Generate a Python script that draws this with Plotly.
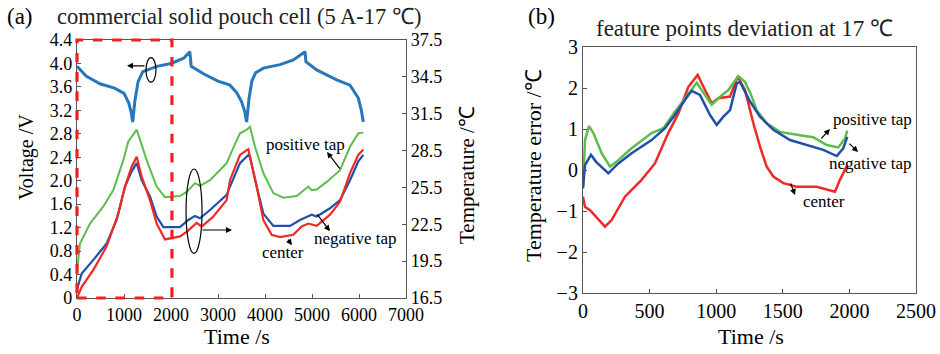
import plotly.graph_objects as go

# ---------------- Panel (a) data ----------------
volt_t = [0, 200, 500, 800, 1000, 1100, 1150, 1185, 1230, 1300, 1400, 1700, 2000, 2270, 2400,
          2430, 2700, 3000, 3255, 3400, 3500, 3570, 3610, 3660, 3720, 3800, 3965, 4320, 4603,
          4851, 4870, 5100, 5525, 5809, 5985, 6050, 6092]
volt_v = [3.95, 3.78, 3.65, 3.58, 3.49, 3.33, 3.18, 3.00, 3.35, 3.69, 3.86, 3.95, 4.00, 4.09, 4.20,
          3.95, 3.82, 3.70, 3.63, 3.50, 3.35, 3.18, 3.00, 3.40, 3.70, 3.84, 3.92, 3.98, 4.06,
          4.20, 4.03, 3.89, 3.72, 3.63, 3.41, 3.20, 3.00]

pos_t = [0, 64, 277, 560, 773, 986, 1092, 1200, 1270, 1340, 1482, 1695, 1872, 2191, 2333, 2511,
         2617, 2830, 3184, 3350, 3468, 3610, 3681, 3787, 3965, 4177, 4390, 4674, 4816, 4922,
         4993, 5100, 5312, 5596, 5809, 5985, 6092]
pos_T = [18.65, 20.94, 22.56, 23.95, 25.28, 27.72, 29.24, 29.77, 30.20, 29.39, 27.72, 25.57,
         24.71, 24.80, 25.14, 25.85, 25.62, 26.09, 27.48, 28.95, 29.91, 30.20, 30.44, 28.81,
         26.67, 25.04, 24.66, 24.80, 25.28, 25.57, 25.28, 25.33, 25.95, 26.90, 28.81, 29.91, 29.96]

neg_t = [0, 100, 348, 631, 844, 1021, 1163, 1270, 1376, 1553, 1695, 1837, 2191, 2369, 2511, 2617,
         2830, 3184, 3255, 3468, 3645, 3681, 3823, 3965, 4177, 4532, 4745, 4993, 5100, 5383,
         5596, 5809, 5985, 6092]
neg_T = [17.22, 18.50, 19.60, 20.94, 22.85, 25.57, 26.81, 27.48, 26.09, 24.76, 23.13, 22.27,
         22.27, 22.85, 23.18, 22.99, 23.66, 24.90, 25.57, 27.48, 28.15, 27.95, 25.57, 23.37,
         22.37, 22.37, 22.85, 23.28, 23.13, 23.80, 24.47, 26.09, 27.62, 28.15]

ctr_t = [0, 100, 348, 631, 879, 1021, 1163, 1270, 1376, 1553, 1695, 1872, 2191, 2333, 2546, 2653,
         2901, 3184, 3255, 3468, 3645, 3823, 3965, 4142, 4319, 4603, 4780, 4922, 5100, 5383,
         5596, 5809, 5985, 6092]
ctr_T = [16.50, 17.41, 18.79, 20.70, 23.37, 25.57, 27.19, 28.00, 26.38, 24.47, 22.56, 21.27,
         21.51, 21.89, 22.61, 22.32, 23.13, 24.47, 26.09, 28.15, 28.62, 25.57, 22.85, 21.65,
         21.46, 21.65, 22.32, 22.56, 22.37, 23.28, 24.33, 26.67, 28.15, 28.58]

volt_ticks = [0, 0.4, 0.8, 1.2, 1.6, 2.0, 2.4, 2.8, 3.2, 3.6, 4.0, 4.4]
volt_ticktext = ["0", "0.4", "0.8", "1.2", "1.6", "2.0", "2.4", "2.8", "3.2", "3.6", "4.0", "4.4"]
temp_ticks = [16.5, 19.5, 22.5, 25.5, 28.5, 31.5, 34.5, 37.5]
temp_ticktext = ["16.5", "19.5", "22.5", "25.5", "28.5", "31.5", "34.5", "37.5"]

# ---------------- Panel (b) data ----------------
bpos_t = [0, 15, 45, 78, 140, 203, 265, 365, 515, 603, 690, 791, 854, 890, 966, 1016, 1091,
          1166, 1216, 1260, 1304, 1379, 1479, 1629, 1729, 1830, 1917, 1967, 1984]
bpos_v = [-0.41, 0.73, 1.07, 0.90, 0.41, 0.08, 0.24, 0.53, 0.90, 1.02, 1.42, 1.87, 2.13, 1.95,
          1.59, 1.75, 1.95, 2.29, 2.15, 1.85, 1.46, 1.14, 0.93, 0.85, 0.80, 0.61, 0.55, 0.77, 0.96]

bneg_t = [0, 15, 60, 98, 190, 265, 365, 515, 616, 690, 791, 816, 878, 954, 1004, 1054, 1104,
          1154, 1179, 1254, 1329, 1429, 1554, 1679, 1804, 1905, 1954, 1984]
bneg_v = [-0.45, 0.12, 0.37, 0.20, -0.08, 0.16, 0.41, 0.73, 1.02, 1.34, 1.83, 1.93, 1.83, 1.34,
          1.10, 1.30, 1.46, 2.11, 2.15, 1.67, 1.30, 0.98, 0.73, 0.61, 0.49, 0.34, 0.53, 0.81]

bctr_t = [0, 15, 53, 165, 215, 315, 440, 540, 640, 716, 791, 861, 904, 966, 1016, 1104, 1161,
          1216, 1279, 1329, 1379, 1429, 1504, 1604, 1754, 1892, 1929, 1984]
bctr_v = [-0.65, -0.90, -0.98, -1.38, -1.22, -0.65, -0.24, 0.16, 0.90, 1.38, 2.03, 2.32, 2.03,
          1.63, 1.75, 1.79, 2.28, 1.95, 1.14, 0.57, 0.08, -0.16, -0.32, -0.41, -0.41, -0.53,
          -0.24, 0.12]

# ---------------- styles ----------------
FONT = "Liberation Serif"
C_VOLT = "#2677bb"
C_GREEN = "#5bbd4a"
C_BLUE = "#2050a8"
C_RED = "#ee2a24"
AXC = "#555555"
W, H = 940, 354


def px(x):
    return x / W


def py(y):
    return 1 - y / H


fig = go.Figure()

# panel (a)
fig.add_trace(go.Scatter(x=volt_t, y=volt_v, mode="lines", line=dict(color=C_VOLT, width=3),
                         xaxis="x", yaxis="y", showlegend=False))
fig.add_trace(go.Scatter(x=pos_t, y=pos_T, mode="lines", line=dict(color=C_GREEN, width=2),
                         xaxis="x", yaxis="y2", showlegend=False))
fig.add_trace(go.Scatter(x=neg_t, y=neg_T, mode="lines", line=dict(color=C_BLUE, width=2.2),
                         xaxis="x", yaxis="y2", showlegend=False))
fig.add_trace(go.Scatter(x=ctr_t, y=ctr_T, mode="lines", line=dict(color=C_RED, width=2.2),
                         xaxis="x", yaxis="y2", showlegend=False))

# panel (b)
fig.add_trace(go.Scatter(x=bctr_t, y=bctr_v, mode="lines", line=dict(color=C_RED, width=2.5),
                         xaxis="x3", yaxis="y3", showlegend=False))
fig.add_trace(go.Scatter(x=bpos_t, y=bpos_v, mode="lines", line=dict(color=C_GREEN, width=2.5),
                         xaxis="x3", yaxis="y3", showlegend=False))
fig.add_trace(go.Scatter(x=bneg_t, y=bneg_v, mode="lines", line=dict(color=C_BLUE, width=2.5),
                         xaxis="x3", yaxis="y3", showlegend=False))

axis_common = dict(showline=True, linecolor=AXC, linewidth=1.2, ticks="inside", ticklen=4,
                   tickcolor=AXC, showgrid=False, zeroline=False, automargin=False,
                   tickfont=dict(family=FONT, size=18, color="black"))
axis_b = {**axis_common, "tickfont": dict(family=FONT, size=20, color="black")}

fig.update_layout(
    width=W, height=H, autosize=False,
    margin=dict(l=0, r=0, t=0, b=0, pad=0),
    paper_bgcolor="white", plot_bgcolor="white",
    font=dict(family=FONT, color="black"),
    xaxis=dict(domain=[px(77), px(406)], range=[0, 7000],
               tickvals=[0, 1000, 2000, 3000, 4000, 5000, 6000, 7000],
               mirror=True, anchor="y", **axis_common),
    yaxis=dict(domain=[py(298), py(40)], range=[0, 4.4], tickvals=volt_ticks, ticktext=volt_ticktext,
               anchor="x", **axis_common),
    yaxis2=dict(overlaying="y", side="right", range=[16.5, 37.5], tickvals=temp_ticks,
                ticktext=temp_ticktext, anchor="x", **axis_common),
    xaxis3=dict(domain=[px(583), px(916)], range=[0, 2500], tickvals=[0, 500, 1000, 1500, 2000, 2500],
                mirror=True, anchor="y3", **axis_b),
    yaxis3=dict(domain=[py(293), py(47)], range=[-3, 3], tickvals=[-3, -2, -1, 0, 1, 2, 3],
                mirror=True, anchor="x3", **axis_b),
)

# red dashed box (paper coords, so it is not clipped)
x_box_end = 77 + 2020 * (406 - 77) / 7000
fig.add_shape(type="rect", xref="paper", yref="paper", x0=px(77), x1=px(x_box_end),
              y0=py(298), y1=py(40), line=dict(color="#f02020", width=3.2, dash="dash"))

# ellipses
fig.add_shape(type="circle", xref="x", yref="y", x0=1468, x1=1680, y0=3.68, y1=4.10,
              line=dict(color="black", width=1.2))
fig.add_shape(type="circle", xref="x", yref="y", x0=2320, x1=2660, y0=0.76, y1=2.20,
              line=dict(color="black", width=1.2))

anns = []
C = dict(xanchor="center", yanchor="middle", showarrow=False)
# titles / labels
anns.append(dict(text="(a)", x=px(20), y=py(17), xref="paper", yref="paper", font=dict(size=23), **C))
anns.append(dict(text="commercial solid pouch cell (5 A-17 ℃)", x=px(239), y=py(16), xref="paper",
                 yref="paper", font=dict(size=22.5, color="#222222"), **C))
anns.append(dict(text="(b)", x=px(541), y=py(17), xref="paper", yref="paper", font=dict(size=23), **C))
anns.append(dict(text="feature points deviation at 17 ℃", x=px(744), y=py(28), xref="paper",
                 yref="paper", font=dict(size=23, color="#222222"), **C))
anns.append(dict(text="Voltage /V", x=px(26), y=py(157), xref="paper", yref="paper",
                 textangle=-90, font=dict(size=20), **C))
anns.append(dict(text="Temperature /℃", x=px(467), y=py(175), xref="paper", yref="paper",
                 textangle=-90, font=dict(size=21), **C))
anns.append(dict(text="Temperature error /℃", x=px(533), y=py(166), xref="paper", yref="paper",
                 textangle=-90, font=dict(size=22), **C))
anns.append(dict(text="Time /s", x=px(237), y=py(336), xref="paper", yref="paper",
                 font=dict(size=22), **C))
anns.append(dict(text="Time /s", x=px(751), y=py(336), xref="paper", yref="paper",
                 font=dict(size=22), **C))

# panel (a) annotations
lab_font = dict(size=17, color="black")
anns.append(dict(text="positive tap", x=4851, y=2.61, xref="x", yref="y", font=lab_font, **C))
anns.append(dict(text="negative tap", x=5936, y=1.02, xref="x", yref="y", font=lab_font, **C))
anns.append(dict(text="center", x=4383, y=0.77, xref="x", yref="y", font=lab_font, **C))
arrow_style = dict(showarrow=True, arrowhead=2, arrowsize=1, arrowwidth=1.2, arrowcolor="black", text="")
anns.append(dict(x=5319, y=2.49, ax=5617, ay=2.18, xref="x", yref="y", axref="x", ayref="y", **arrow_style))
anns.append(dict(x=5383, y=1.14, ax=5085, ay=1.45, xref="x", yref="y", axref="x", ayref="y", **arrow_style))
anns.append(dict(x=4574, y=0.90, ax=4468, ay=1.02, xref="x", yref="y", axref="x", ayref="y", **arrow_style))
anns.append(dict(x=1064, y=3.96, ax=1468, ay=3.96, xref="x", yref="y", axref="x", ayref="y", **arrow_style))
anns.append(dict(x=3298, y=1.16, ax=2638, ay=1.16, xref="x", yref="y", axref="x", ayref="y", **arrow_style))

# panel (b) annotations
anns.append(dict(text="positive tap", x=2170, y=1.22, xref="x3", yref="y3", font=lab_font, **C))
anns.append(dict(text="negative tap", x=2162, y=0.17, xref="x3", yref="y3", font=lab_font, **C))
anns.append(dict(text="center", x=1809, y=-0.78, xref="x3", yref="y3", font=lab_font, **C))
anns.append(dict(x=1854, y=1.00, ax=1779, ay=0.73, xref="x3", yref="y3", axref="x3", ayref="y3", **arrow_style))
anns.append(dict(x=2065, y=0.44, ax=1989, ay=0.68, xref="x3", yref="y3", axref="x3", ayref="y3", **arrow_style))
anns.append(dict(x=1592, y=-0.61, ax=1554, ay=-0.29, xref="x3", yref="y3", axref="x3", ayref="y3", **arrow_style))

fig.update_layout(annotations=anns)

fig.write_html("out.html", config={"displayModeBar": False},
               post_script="document.body.style.margin='0';document.body.style.padding='0';")
